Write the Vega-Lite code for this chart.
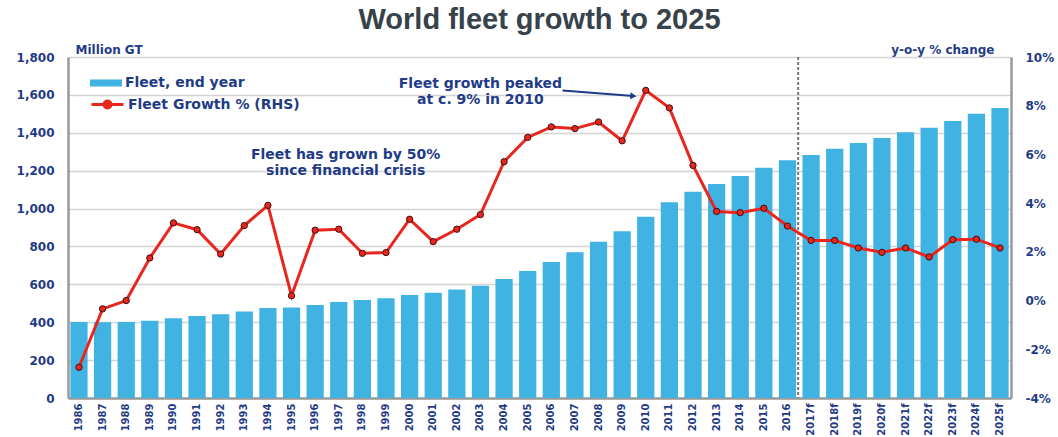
{
  "$schema": "https://vega.github.io/schema/vega-lite/v6.json",
  "width": 943,
  "height": 341,
  "autosize": {"type": "none"},
  "padding": {"left": 68, "top": 57, "right": 47, "bottom": 39},
  "background": "white",
  "title": {"text": "World fleet growth to 2025", "font": "Liberation Sans", "fontSize": 29, "fontWeight": "bold", "color": "#37424a", "anchor": "middle", "frame": "group", "offset": 8},
  "config": {"view": {"stroke": null}},
  "data": {"values": [
    {"year": "1986", "fleet": 401, "growth": -2.74},
    {"year": "1987", "fleet": 400, "growth": -0.34},
    {"year": "1988", "fleet": 401, "growth": 0.0},
    {"year": "1989", "fleet": 408, "growth": 1.75},
    {"year": "1990", "fleet": 421, "growth": 3.19},
    {"year": "1991", "fleet": 433, "growth": 2.91},
    {"year": "1992", "fleet": 442, "growth": 1.91},
    {"year": "1993", "fleet": 456, "growth": 3.08},
    {"year": "1994", "fleet": 475, "growth": 3.91},
    {"year": "1995", "fleet": 478, "growth": 0.2},
    {"year": "1996", "fleet": 491, "growth": 2.89},
    {"year": "1997", "fleet": 507, "growth": 2.93},
    {"year": "1998", "fleet": 517, "growth": 1.94},
    {"year": "1999", "fleet": 526, "growth": 1.97},
    {"year": "2000", "fleet": 544, "growth": 3.34},
    {"year": "2001", "fleet": 556, "growth": 2.42},
    {"year": "2002", "fleet": 573, "growth": 2.93},
    {"year": "2003", "fleet": 593, "growth": 3.53},
    {"year": "2004", "fleet": 628, "growth": 5.70},
    {"year": "2005", "fleet": 670, "growth": 6.70},
    {"year": "2006", "fleet": 718, "growth": 7.13},
    {"year": "2007", "fleet": 769, "growth": 7.06},
    {"year": "2008", "fleet": 825, "growth": 7.33},
    {"year": "2009", "fleet": 880, "growth": 6.56},
    {"year": "2010", "fleet": 957, "growth": 8.63},
    {"year": "2011", "fleet": 1033, "growth": 7.91},
    {"year": "2012", "fleet": 1089, "growth": 5.55},
    {"year": "2013", "fleet": 1130, "growth": 3.66},
    {"year": "2014", "fleet": 1172, "growth": 3.61},
    {"year": "2015", "fleet": 1216, "growth": 3.79},
    {"year": "2016", "fleet": 1255, "growth": 3.06},
    {"year": "2017f", "fleet": 1283, "growth": 2.47},
    {"year": "2018f", "fleet": 1316, "growth": 2.47},
    {"year": "2019f", "fleet": 1346, "growth": 2.16},
    {"year": "2020f", "fleet": 1373, "growth": 1.98},
    {"year": "2021f", "fleet": 1403, "growth": 2.16},
    {"year": "2022f", "fleet": 1427, "growth": 1.79},
    {"year": "2023f", "fleet": 1462, "growth": 2.50},
    {"year": "2024f", "fleet": 1501, "growth": 2.52},
    {"year": "2025f", "fleet": 1531, "growth": 2.16}
  ]},
  "encoding": {
    "x": {
      "field": "year", "type": "ordinal",
      "scale": {"paddingInner": 0.27, "paddingOuter": 0.1},
      "axis": {
        "title": null, "labelAngle": -90, "labelFont": "DejaVu Sans", "labelFontSize": 10, "labelFontWeight": "bold",
        "labelColor": "#1f3b87", "ticks": false, "labelPadding": 5, "domainColor": "#9a9a9a", "domainWidth": 2.5, "grid": false
      }
    }
  },
  "layer": [
    {
      "layer": [
        {
          "mark": {"type": "bar", "color": "#41b3e3"},
          "encoding": {
            "y": {
              "field": "fleet", "type": "quantitative", "scale": {"domain": [0, 1800]},
              "axis": {
                "orient": "left", "values": [0, 200, 400, 600, 800, 1000, 1200, 1400, 1600, 1800], "labelExpr": "format(datum.value, ',')",
                "labelFont": "DejaVu Sans", "labelFontSize": 12, "labelFontWeight": "bold", "labelColor": "#1f3b87",
                "ticks": false, "labelPadding": 14, "domainColor": "#9a9a9a", "domainWidth": 2.5,
                "grid": true, "gridColor": "#d4d4d4", "gridWidth": 1.5,
                "title": "Million GT", "titleAngle": 0, "titleX": 7, "titleY": -4, "titleAlign": "left", "titleBaseline": "alphabetic",
                "titleFont": "DejaVu Sans", "titleFontSize": 12, "titleFontWeight": "bold", "titleColor": "#1f3b87"
              }
            },
            "fill": {
              "datum": "Fleet, end year", "type": "nominal", "scale": {"range": ["#41b3e3"]},
              "legend": {
                "orient": "none", "legendX": 22, "legendY": 10, "title": null,
                "symbolType": "M-1,-0.22H1V0.22H-1Z", "symbolSize": 1024, "symbolStrokeWidth": 0,
                "labelFont": "DejaVu Sans", "labelFontSize": 14, "labelFontWeight": "bold", "labelColor": "#1f3b87", "labelOffset": 3, "labelLimit": 400
              }
            }
          }
        },
        {
          "data": {"values": [{}]},
          "mark": {"type": "rule", "color": "#777777", "strokeDash": [3, 2], "strokeWidth": 2},
          "encoding": {"x": {"datum": "2017f", "type": "ordinal", "bandPosition": -0.25}}
        }
      ]
    },
    {
      "layer": [
        {
          "mark": {"type": "line", "color": "#e8261e", "strokeWidth": 3},
          "encoding": {
            "y": {
              "field": "growth", "type": "quantitative", "scale": {"domain": [-4, 10]},
              "axis": {
                "orient": "right", "values": [-4, -2, 0, 2, 4, 6, 8, 10], "labelExpr": "datum.value + '%'",
                "labelFont": "DejaVu Sans", "labelFontSize": 12, "labelFontWeight": "bold", "labelColor": "#1f3b87",
                "ticks": false, "labelPadding": 14, "domainColor": "#9a9a9a", "domainWidth": 2.5, "grid": false,
                "title": "y-o-y % change", "titleAngle": 0, "titleX": -17, "titleY": -4, "titleAlign": "right", "titleBaseline": "alphabetic",
                "titleFont": "DejaVu Sans", "titleFontSize": 12, "titleFontWeight": "bold", "titleColor": "#1f3b87"
              }
            },
            "stroke": {
              "datum": "Fleet Growth % (RHS)", "type": "nominal", "scale": {"range": ["#e8261e"]},
              "legend": {
                "orient": "none", "legendX": 22, "legendY": 30, "title": null,
                "symbolType": "M-1,0H1M0.22,0A0.22,0.22,0,1,1,-0.22,0A0.22,0.22,0,1,1,0.22,0Z", "symbolSize": 1024,
                "symbolStrokeWidth": 3, "symbolFillColor": "#e8261e",
                "labelFont": "DejaVu Sans", "labelFontSize": 14, "labelFontWeight": "bold", "labelColor": "#1f3b87", "labelOffset": 3, "labelLimit": 400
              }
            }
          }
        },
        {
          "mark": {"type": "circle", "size": 40, "fill": "#e8261e", "stroke": "#3b1010", "strokeWidth": 1, "opacity": 1},
          "encoding": {"y": {"field": "growth", "type": "quantitative"}}
        },
        {
          "data": {"values": [{}]},
          "mark": {"type": "text", "text": ["Fleet growth peaked", "at c. 9% in 2010"], "font": "DejaVu Sans", "fontSize": 14, "fontWeight": "bold", "color": "#1f3b87", "align": "center", "baseline": "middle", "lineHeight": 16},
          "encoding": {"x": {"datum": "2003", "type": "ordinal"}, "y": {"datum": 8.89, "type": "quantitative"}}
        },
        {
          "data": {"values": [{}]},
          "mark": {"type": "text", "text": ["Fleet has grown by 50%", "since financial crisis"], "font": "DejaVu Sans", "fontSize": 14, "fontWeight": "bold", "color": "#1f3b87", "align": "center", "baseline": "middle", "lineHeight": 16},
          "encoding": {"x": {"datum": "1997", "type": "ordinal", "bandPosition": 0.9}, "y": {"datum": 5.98, "type": "quantitative"}}
        },
        {
          "data": {"values": [{"year": "2007", "pct": 8.62}, {"year": "2010", "pct": 8.40}]},
          "mark": {"type": "line", "color": "#1f3b87", "strokeWidth": 2},
          "encoding": {"x": {"field": "year", "type": "ordinal", "bandPosition": -0.22}, "y": {"field": "pct", "type": "quantitative"}}
        },
        {
          "data": {"values": [{"year": "2010", "pct": 8.40}]},
          "mark": {"type": "point", "shape": "triangle-right", "filled": true, "color": "#1f3b87", "size": 50, "angle": 4.5, "opacity": 1},
          "encoding": {"x": {"field": "year", "type": "ordinal", "bandPosition": -0.22}, "y": {"field": "pct", "type": "quantitative"}}
        }
      ]
    }
  ],
  "resolve": {"scale": {"y": "independent"}}
}
